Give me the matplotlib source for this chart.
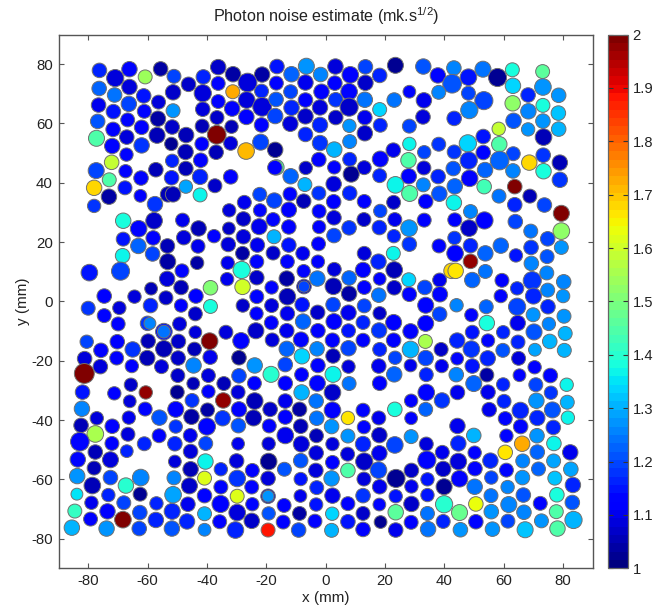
import numpy as np
import matplotlib
matplotlib.use("Agg")
import matplotlib.pyplot as plt

plt.rcParams['font.family'] = ['Liberation Sans', 'DejaVu Sans']
plt.rcParams['axes.unicode_minus'] = False
plt.rcParams['mathtext.fontset'] = 'custom'
plt.rcParams['mathtext.rm'] = 'Liberation Sans'
plt.rcParams['mathtext.default'] = 'regular'

# upper-left detectors: x (mm), y (mm), bubble diameter (mm), photon noise
ul_x = [-76.2,-70.9,-66.1,-60.8,-55.6,-51.1,-46.2,-41.2,-36.2,-31.2,
 -21.4,-26.3,-36.2,-31.3,-16.4,-11.5,-6.5,-1.7,-16.6,-21.6,
 -11.8,-6.8,-1.4,-76.3,-71.1,-66.1,-61.3,-51.4,-41.4,-56.3,
 -51.4,-76.5,-66.3,-71.5,-61.1,-36.2,-41.4,-31.5,-26.6,-21.4,
 -16.7,-11.5,-6.8,-1.9,-76.8,-66.7,-71.6,-62,-56.5,-51.7,
 -36.6,-41.6,-26.7,-17,-21.6,-31.7,-11.9,-6.8,-1.9,-6.8,
 -77.2,-67,-56.8,-47,-36.7,-71.9,-62,-52,-41.7,-32,
 -21.9,-26.8,-1.9,-17,-47.2,-36.9,-67.1,-72.1,-51.7,-42.1,
 -2.3,-77.3,-67.4,-57.2,-47.1,-16.6,-17.1,-6.7,-72.9,-62.2,
 -51.9,-42.3,-32,-11.8,-78,-67.6,-47.1,-37.3,-7,-73,
 -62.4,-53.1,-51.4,-42.3,-22.2,-12,-2.3,-78,-57.5,-27.4,
 -17.3,-7.4,-32.5,-22.1,-12.4,-2.2,-68.2,-57.8,-48.2,-27.7,
 -17.7,-63,-42.8,-32.6,-22.4,-12.4,-2.2,-68.2,-58.1,-47.8,
 -37.6,-27.7,-17.4,-63.1,-53.3,-43,-32.8,-23,-12.4,-2.4,
 -68.4,-58.3,-17.7,-28,-7.7,-53.2,-43.3,-33,-23.2,-12.9,
 -2.6,-79.6,-69.1,-28.3,-48.4,-7.4,-53.4,-33.2,-23.2,-13.1,
 -2.8,-58.8,-48.7,-38.8,-28,-18.2,-7.3,-7.3,-74.6,-64.4,
 -43.7,-53.8]
ul_y = [77.9,75.3,78.3,75.7,78.4,75.9,73.2,75.7,79,76.6,
 76.5,73.8,73.5,70.7,79.2,76.6,79.3,76.5,73.6,70.9,
 70.7,73.8,70.7,71.8,69.6,72.3,69.3,70.5,70.2,67.2,
 64.3,66.2,66.6,64,64.1,67.4,64.8,65,67.9,65.6,
 68.1,65.3,67.9,65.4,60.7,61.2,58,58.7,61.6,58.8,
 62,59.1,62.2,62.5,59.5,58.9,59.9,62.4,59.5,56.3,
 55,55.4,56,56.1,56.2,52.4,52.6,53.1,53.1,53.3,
 53.7,50.7,53.4,51.1,50.4,50.3,49.5,46.9,47.4,47.6,
 47.8,44.1,43.9,44.4,44.8,45.2,45.1,45,41,41.6,
 41.7,42,42,42.2,38.3,38.3,38.7,39,39.4,35.3,
 35.6,36.1,36.1,35.9,36.1,36.2,36.5,32.2,32.8,33.4,
 34,33.8,30.7,30.7,30.9,30.4,27.2,27.2,27.4,27.8,
 27.6,24.5,24.6,24.6,25.2,25.1,25.1,21,21.4,21.5,
 22,21.8,21.8,18.7,18.7,18.6,19.2,19,19,19.4,
 15.4,16,16.3,16.2,16.2,13.4,13,13,13.4,13.4,
 13.4,9.7,10.2,10.6,10.3,10.2,7.6,7.5,8,7.7,
 7.7,4.3,4.7,4.6,4.9,4.7,5,5,1.8,1.6,
 1.8,1.2]
ul_d = [4.9,5.8,5.2,4.7,4.9,4.7,4.9,4.9,5.2,5.2,
 5.2,6.3,4.7,4.7,4.9,5.2,5.4,4.9,4.7,4.7,
 4.7,5.2,5.2,4.9,4.9,5.2,4.9,5.2,5.8,4.7,
 4.7,4.9,5.2,4.9,4.7,4.7,4.9,5.2,5.6,6.3,
 4.9,5.2,4.9,5.2,4.9,4.7,4.9,4.9,5.2,4.9,
 4.7,4.7,5.2,5.2,4.9,4.5,5.2,5.2,5.2,4.9,
 5.4,4.9,5.4,5.2,6.3,5.2,5.2,4.5,4.7,4.7,
 5.4,5.6,5.2,5.2,5.2,4.9,4.5,4.9,4.5,4.9,
 4.9,5.4,4.5,4.9,4.9,5.2,4.9,4.5,4.7,4.9,
 4.9,5.2,4.9,5.2,5.2,4.7,4.5,4.7,4.7,5.2,
 4.3,5.2,5.2,4.7,4.7,4.7,4.7,4.5,5.2,4.7,
 5.2,4.9,4.5,4.5,5.2,4.7,5.2,5.6,4.7,4.9,
 4.7,5.6,5.2,4.3,5.4,4.9,4.5,4.7,4.9,4.9,
 4.5,4.9,4.7,5.2,4.9,4.7,4.9,4.9,4.9,4.7,
 4.9,4.9,4.7,4.7,4.7,5.4,4.5,4.5,4.7,4.7,
 4.5,5.6,6.1,5.8,4.7,4.5,5.2,4.5,4.9,5.2,
 5.2,4.3,4.9,4.9,5.2,4.5,4.9,3.8,4.9,4.5,
 4.9,4.7]
ul_z = [1.17,1.09,1.13,1.54,1.04,1.2,1.07,1.17,1.07,1.04,
 1.04,1.08,1.14,1.73,1.15,1.23,1.27,1.26,1.11,1.16,
 1.2,1.1,1.12,1.22,1.24,1.08,1.15,1.07,1.09,1.08,
 1.27,1.1,1.2,1.15,1.14,1.12,1.09,1.11,1.09,1.09,
 1.21,1.17,1.11,1.08,1.21,1.13,1.11,1.11,1.04,1.07,
 1.07,1.06,1.12,1.2,1.11,1.05,1.09,1.07,1.17,1.17,
 1.44,1.08,1.05,1.06,2.0,1.14,1.18,1.03,1.11,1.08,
 1.19,1.71,1.18,1.03,1.06,1.06,1.13,1.59,1.16,1.11,
 1.12,1.2,1.11,1.05,1.06,1.45,1.11,1.07,1.44,1.14,
 1.15,1.16,1.11,1.23,1.68,1.15,1.29,1.07,1.31,1.04,
 1.11,1.05,1.05,1.36,1.2,1.14,1.18,1.18,1.18,1.1,
 1.2,1.05,1.09,1.14,1.11,1.13,1.39,1.07,1.1,1.07,
 1.14,1.13,1.06,1.07,1.1,1.11,1.11,1.15,1.12,1.09,
 1.12,1.08,1.3,1.23,1.06,1.1,1.08,1.1,1.15,1.11,
 1.37,1.19,1.07,1.04,1.1,1.04,1.04,1.1,1.13,1.13,
 1.12,1.15,1.2,1.39,1.13,1.14,1.09,1.1,1.07,1.04,
 1.24,1.05,1.05,1.5,1.6,1.13,1.05,1.2,1.11,1.09,
 1.12,1.07]

# upper-right detectors
ur_x = [3.3,8.3,13.4,18.2,23.5,32.9,37.8,43.2,42.6,48.1,
 53,57.9,62.9,73.1,3.1,13.4,7.9,3.4,13.2,7.9,
 18.2,23.1,28.2,33.1,38.1,48.1,63.1,73.2,68.2,78.5,
 53.3,48.4,63,73.2,68.3,78.4,3.4,13.2,32.8,43.3,
 63.3,73.2,8,18.4,28.2,58.3,68.2,78.5,13.2,2.9,
 8.1,73.4,53.1,28.2,38.1,47.9,58.5,22.8,33.2,43.3,
 53.1,63.2,73.3,18.4,27.9,8.1,48.2,58.6,68.6,78.9,
 2.9,13,8.6,33.1,43,53.7,73.4,63.1,18.2,28,
 37.9,48.5,78.9,2.7,23.5,32.9,43.5,63.7,53.4,8.1,
 28.3,38.3,58.4,68.8,2.7,13,22.9,33.7,43.2,63.7,
 73.7,18.4,48.8,79.4,2.8,12.9,23.3,33.2,43.5,53.5,
 63.9,7.9,18.1,28.1,48.3,69.1,79.4,2.8,23,43.4,
 74.8,28.2,38.2,48.8,59,69.2,79.4,13,22.8,43.6,
 53.8,64.1,74.6,48.8,17.8,69.3,2.9,12.6,23.1,42.4,
 43.8,53.8,74.5,18.2,7.9,2.6,28,38.4,49.4,59.4,
 69.6,80.2,13,23.1,33.4,64.5,74.8,7.9,17.9,28.2,
 38.5,59,70,80]
ur_y = [79.2,76.4,79.1,76.2,79.6,79.2,76.2,78.7,73.4,75.6,
 78.3,75.5,78.1,77.5,73.6,73.7,70.7,68,68,65.5,
 64.7,67.9,70.7,67.8,70.5,70.2,72.7,72.3,69.6,69.5,
 67.7,64.5,66.8,66.1,64.1,63.5,62,62,62.2,61.7,
 60.9,60.8,59.2,59.4,59.1,58.2,58,58.1,56.7,51.2,
 53.9,55.4,55.6,53.1,53,53.3,53,51,50.3,50.4,
 50.2,49.8,49.3,48,47.6,47.9,47.5,47.5,46.8,46.8,
 45.2,45.1,42.9,45,44.8,44.3,43.9,44,42.4,42.2,
 42.1,41.5,41,39.6,39.3,39.3,38.8,38.7,38.7,36.5,
 36.4,36.3,35.5,35.5,33.6,33.7,33.4,33.7,33.3,32.6,
 32.5,30.5,30.3,29.7,28.2,27.6,27.6,27.4,27.5,27.3,
 26.9,24.8,24.9,24.7,24.7,23.7,23.7,22.2,22,21.4,
 21.1,19.3,18.7,18.8,18.8,18.2,18.2,16.2,16.2,16.2,
 16.2,15.5,15.1,13.5,13.4,12.8,10.8,10.6,10.6,10.3,
 10.3,10.1,9.6,7.6,7.9,5.1,7.3,7.2,7.2,7.1,
 7,6.6,4.7,4.6,4.7,4.4,3.8,2.6,2.1,2.4,
 2.4,1.8,1.8,1.8]
ur_d = [5.2,5.6,4.9,4.9,5.4,5.2,5.2,4.9,6.3,5.6,
 5.4,6.1,4.7,4.7,4.9,5.2,5.6,4.9,5.2,6.1,
 4.7,4.9,4.3,5.2,4.7,4.7,5.2,5.6,4.9,4.9,
 6.1,5.8,5.2,4.7,5.2,4.9,4.9,4.9,4.9,4.9,
 5.2,4.9,4.5,4.7,4.7,4.5,4.5,4.9,5.2,5.2,
 4.7,5.6,4.9,4.5,4.7,5.8,5.2,4.9,4.5,4.7,
 4.9,4.7,4.9,5.4,5.2,4.7,5.8,6.3,5.2,5.2,
 4.5,4.7,5.4,4.7,4.9,5.2,5.2,4.9,4.7,5.2,
 4.9,5.6,5.2,5.2,5.6,4.7,5.2,4.9,4.9,4.9,
 5.4,5.2,4.7,4.7,4.9,4.7,4.7,4.9,5.2,4.9,
 4.9,4.5,4.7,5.4,4.9,4.7,4.7,4.7,4.7,5.8,
 4.9,4.9,4.9,5.6,5.6,4.7,5.6,4.9,4.5,4.5,
 4.9,4.9,4.7,4.9,5.2,4.9,4.7,4.7,4.7,5.6,
 5.2,4.5,4.7,4.9,5.2,4.9,4.7,5.2,5.6,5.2,
 5.2,4.7,4.7,4.3,4.9,5.6,4.7,4.7,5.2,4.7,
 6.1,4.9,4.7,4.9,4.9,4.5,4.7,5.2,4.9,4.9,
 5.2,4.5,5.4,4.5]
ur_z = [1.09,1.11,1.2,1.16,1.03,1.21,1.13,1.26,1.21,1.15,
 1.24,1.03,1.39,1.46,1.12,1.07,1.14,1.18,1.24,1.07,
 1.33,1.24,1.14,1.1,1.25,1.2,1.33,1.28,1.16,1.27,
 1.19,1.25,1.53,1.38,1.26,1.32,1.07,1.1,1.08,1.17,
 1.21,1.27,1.27,1.17,1.2,1.59,1.27,1.3,1.07,1.3,
 1.26,1.05,1.15,1.36,1.18,1.34,1.44,1.1,1.2,1.18,
 1.14,1.2,1.18,1.11,1.44,1.17,1.16,1.23,1.68,1.05,
 1.11,1.09,1.03,1.08,1.21,1.23,1.38,1.25,1.17,1.11,
 1.17,1.11,1.18,1.08,1.36,1.25,1.22,1.99,1.43,1.16,
 1.45,1.21,1.24,1.05,1.11,1.11,1.07,1.11,1.36,1.17,
 1.2,1.2,1.26,2.0,1.08,1.07,1.1,1.11,1.11,1.12,
 1.2,1.18,1.17,1.27,1.07,1.24,1.53,1.2,1.17,1.18,
 1.19,1.18,1.14,1.16,1.23,1.18,1.27,1.09,1.37,1.11,
 1.23,1.15,1.21,1.97,1.17,1.25,1.08,1.11,1.05,1.68,
 1.67,1.24,1.25,1.11,1.23,1.06,1.33,1.1,1.22,1.12,
 1.18,1.26,1.11,1.07,1.19,1.16,1.25,1.04,1.24,1.12,
 1.14,1.14,1.16,1.27]

# lower-left detectors
ll_x = [-23.2,-12.9,-59,-80,-69.5,-74.6,-48.7,-38.8,-43.9,-27.9,
 -18.2,-7.9,-23.3,-12.9,-2.7,-69.9,-60,-59.2,-49.2,-18.3,
 -7.6,-54.5,-54.5,-43.9,-33.6,-23.5,-13.1,-2.6,-80.5,-70.2,
 -59.8,-49.6,-39.1,-28.5,-18,-8.3,-75.7,-65,-54.5,-44.2,
 -13.1,-2.9,-81.2,-70.4,-60.1,-49.7,-38.9,-29.2,-8,-75.9,
 -65.3,-55.3,-44.5,-23.9,-13.6,-2.6,-81.3,-49.8,-39.5,-29.2,
 -18.4,-8.1,-65.6,-44.6,-34.3,-24,-13.6,-2.8,-81.9,-71.2,
 -60.6,-50,-39.5,-29.5,-8.1,-66,-45,-34.5,-23.9,-13.6,
 -3.2,-82.1,-60.8,-50.5,-39.8,-29.2,-18.7,-8.8,-77.1,-66.3,
 -56,-45.2,-34.7,-24.3,-13.6,-3,-82.4,-71.9,-50.5,-40,
 -29.4,-19,-8.4,-77.6,-66.6,-56.1,-45.6,-13.6,-3.1,-82.8,
 -72,-61.1,-50.8,-40.4,-29.5,-19.2,-8.2,-77.6,-67,-45.5,
 -3.2,-83.5,-72.5,-50.8,-40.5,-30,-19.2,-8.4,-78,-45.5,
 -35.3,-24.7,-13.9,-3.3,-83.7,-72.5,-62.3,-51.1,-40.8,-29.8,
 -19.4,-8.4,-78.6,-67.3,-45.9,-35.3,-24.9,-3,-83.8,-73.2,
 -62.5,-51.4,-40.8,-29.8,-19.4,-19.4,-8.5,-78.9,-68,-57,
 -46.4,-35.4,-24.7,-14,-3.2,-84.5,-73.5,-62.6,-51.7,-40.8,
 -29.8,-19.2,-8.8,-79.2,-68.3,-57.2,-46.7,-35.7,-24.9,-14.3,
 -3.6,-85.5,-73.8,-62.8,-51.8,-40.8,-30.4,-19.4,-9.1]
ll_y = [1.6,1.6,-1.4,-2.3,-2.2,-4.8,-1.4,-1.7,-4.2,-1.4,
 -1.4,-1.1,-4.1,-4.1,-3.7,-7.6,-7.4,-7.4,-7.6,-7.2,
 -6.8,-10.2,-10.2,-10.4,-10.4,-9.9,-9.9,-9.9,-13.6,-13.6,
 -13.4,-13.5,-13.4,-13.3,-13,-12.9,-16.5,-16.2,-16,-16.1,
 -16,-16,-19.3,-19.1,-19.1,-19.1,-18.8,-19,-18.5,-22,
 -21.8,-22,-21.6,-21.6,-21.3,-21.6,-24.3,-25,-25,-25.1,
 -24.6,-24.7,-28.1,-27.7,-27.7,-27.6,-27.6,-27.6,-30.6,-31,
 -30.7,-30.6,-30.4,-30.6,-30.7,-33.7,-33.4,-33.4,-33.6,-33.6,
 -33.6,-36.2,-36.3,-36.4,-36.6,-36.4,-36.4,-36.4,-39.4,-39.2,
 -39.2,-38.9,-39.4,-39.3,-39,-39.4,-41.8,-42.1,-42.2,-42.2,
 -41.9,-42,-42.1,-44.7,-44.8,-45.3,-45.2,-45.2,-45.3,-47.3,
 -47.9,-48,-48,-47.9,-48,-48,-48.1,-50.8,-50.5,-50.6,
 -51.1,-53.3,-53.4,-54,-54,-53.8,-54,-53.7,-56.2,-56.6,
 -56.6,-57,-56.6,-57,-58.9,-59.4,-59.4,-59.5,-59.6,-59.7,
 -59.7,-59.9,-62.1,-62.1,-62.2,-62.6,-62.6,-62.8,-65,-65.3,
 -65,-65.2,-65.5,-65.7,-65.7,-65.7,-65.6,-67.9,-67.9,-68.1,
 -68.4,-68.3,-68.4,-68.8,-68.5,-70.7,-70.8,-71.2,-70.8,-71.6,
 -71.2,-71.5,-71.5,-73.4,-73.6,-73.7,-74.2,-74.3,-74,-74.4,
 -74.1,-76.3,-76.6,-76.6,-76.6,-77,-77.1,-77.1,-77.1]
ll_d = [4.7,5.6,4.9,4.7,4.5,4.7,4.5,4.7,4.7,4.5,
 4.7,4.9,4.5,4.9,4.9,4.7,4.9,4.0,4.7,4.7,
 5.2,5.6,4.3,4.3,4.7,5.4,4.9,4.9,4.5,4.9,
 4.9,4.9,5.6,5.6,4.7,5.2,4.9,5.2,5.6,4.7,
 5.2,4.9,4.9,4.7,5.2,4.9,4.9,4.9,5.2,4.9,
 4.5,4.7,5.2,5.2,4.9,4.9,6.7,4.7,4.7,4.9,
 5.4,4.7,4.5,4.3,4.7,4.7,4.9,5.4,4.9,4.5,
 4.5,4.7,4.5,4.7,5.2,4.3,4.7,5.2,5.6,4.9,
 4.9,5.2,4.7,5.4,4.7,5.2,4.9,4.9,4.5,4.5,
 5.2,5.2,5.2,5.4,4.9,4.9,4.9,4.9,4.5,5.8,
 4.9,4.7,4.9,5.6,4.7,4.7,4.7,5.6,4.7,6.3,
 4.7,4.7,4.9,4.7,4.3,4.5,5.4,4.9,4.3,4.9,
 4.9,5.2,5.4,4.3,5.2,4.9,5.6,4.9,4.7,5.2,
 4.5,4.7,4.7,4.9,5.2,4.9,5.6,4.7,4.7,5.6,
 4.9,4.5,5.6,5.2,5.4,4.7,4.7,4.7,4.0,4.5,
 4.7,5.6,4.9,4.7,4.9,4.0,4.3,4.5,4.7,4.5,
 4.9,5.8,4.5,4.7,4.5,4.7,5.2,4.9,5.4,4.7,
 5.6,4.5,4.7,4.7,5.6,5.2,5.2,4.7,5.2,4.7,
 4.7,5.2,5.2,4.9,5.2,4.3,5.6,4.7,4.9]
ll_z = [1.13,1.05,1.17,1.18,1.09,1.14,1.12,1.38,1.07,1.07,
 1.08,1.15,1.12,1.1,1.07,1.12,1.18,1.26,1.08,1.11,
 1.22,1.15,1.24,1.09,1.08,1.07,1.1,1.11,1.2,1.11,
 1.05,1.07,2.0,1.11,1.08,1.14,1.11,1.18,1.06,1.06,
 1.23,1.25,1.08,1.11,1.05,1.07,1.1,1.03,1.34,1.09,
 1.11,1.08,1.25,1.27,1.2,1.11,2.0,1.07,1.08,1.19,
 1.4,1.11,1.07,1.05,1.06,1.11,1.12,1.14,1.15,1.11,
 1.98,1.03,1.11,1.09,1.3,1.09,1.18,1.97,1.06,1.1,
 1.24,1.26,1.13,1.11,1.04,1.11,1.07,1.04,1.09,1.1,
 1.21,1.04,1.18,1.05,1.11,1.24,1.05,1.11,1.18,1.13,
 1.21,1.11,1.06,1.56,1.09,1.11,1.1,1.1,1.05,1.14,
 1.11,1.16,1.17,1.19,1.1,1.09,1.09,1.06,1.17,1.08,
 1.09,1.14,1.09,1.09,1.36,1.09,1.03,1.21,1.05,1.06,
 1.16,1.11,1.21,1.08,1.27,1.19,1.26,1.25,1.62,1.18,
 1.08,1.15,1.06,1.4,1.07,1.13,1.13,1.17,1.35,1.17,
 1.03,1.29,1.13,1.61,1.07,1.27,1.1,1.1,1.19,1.17,
 1.1,1.11,1.13,1.11,1.15,1.41,1.11,1.19,1.17,1.31,
 1.08,1.21,1.04,1.11,1.99,1.17,1.17,1.11,1.07,1.11,
 1.11,1.3,1.28,1.19,1.21,1.25,1.17,1.89,1.19]

# lower-right detectors
lr_x = [44.1,54.1,64.5,74.9,2.5,13,33.7,38.4,49.1,69.9,
 80.3,7.7,18.2,2.8,12.6,22.9,33.7,54.3,64.7,75.2,
 7.7,18,28.6,49.4,59.8,70.2,80.7,2.3,12.6,22.9,
 44.3,54.7,64.8,75.5,33.6,28.6,7.7,18.2,38.9,49.1,
 59.7,70.5,80.4,2.5,33.7,23.4,44.3,54.6,65,7.7,
 17.9,28.6,39.1,49.4,70.4,2.5,23.1,33.9,44,54.3,
 65.3,75.7,7.9,18.2,49.9,59.8,70.8,81.2,2.3,33.9,
 44.4,54.7,75.9,39.2,28.8,60.1,71,81.4,2.3,12.6,
 23.3,33.7,55.1,65.6,76.4,7.5,17.9,28.8,60.5,71.3,
 81.6,2,12.9,44.4,65.7,76.7,7.5,18.1,28.8,49.9,
 60.9,71.2,2.3,12.6,23.3,33.9,44.7,66.2,76.9,7.4,
 18.1,39.3,50.2,60.5,71.3,82.4,2.3,13,34.1,44.7,
 55.5,66.4,76.8,7.5,17.8,28.9,39.6,50.3,60.9,71.7,
 82.6,2,12.9,23.7,34.3,45.1,55.8,66.3,77.2,18.2,
 28.9,39.9,50.2,61.3,83.3,2.3,12.6,23.6,34.3,55.7,
 66.6,77.9,7.5,18.1,28.9,39.9,50.6,61.7,72.3,83.1,
 12.6,23.6,34.3,45.1,55.8,66.8,77.7,2.2,7.5,18.5,
 28.8,39.6,50.6,61.4,72.7,83.5,2,12.6,23.6,34.5,
 45.4,56.2,67.2,78.1]
lr_y = [-1.3,-1.8,-1.8,-1.8,-1.1,-1.5,-1.3,-4.3,-4.6,-4.5,
 -5,-3.8,-4,-6.8,-7.1,-7.1,-7.4,-7.3,-7.3,-7.6,
 -9.9,-9.8,-10.1,-10.4,-10.4,-10.3,-10.8,-13.1,-13.1,-13.1,
 -13.2,-13.2,-13.7,-13.5,-13.5,-16.2,-15.8,-16.2,-16.2,-16.1,
 -16.5,-16.3,-16.5,-18.4,-19.1,-19,-19.3,-19.2,-19.2,-22,
 -21.8,-21.6,-21.8,-21.8,-22.2,-24.6,-24.6,-24.7,-24.7,-24.8,
 -24.9,-25,-27.7,-27.6,-27.7,-28,-28.1,-28.1,-30.7,-30.7,
 -30.7,-30.6,-30.8,-33.4,-33.5,-33.7,-33.5,-34,-36.7,-36.7,
 -36.4,-36.4,-36.5,-36.8,-36.6,-39.3,-39.3,-39.4,-39.5,-39.3,
 -39.2,-42.2,-42.4,-42,-42.2,-42.5,-45.4,-45.1,-45.6,-45.2,
 -45.3,-45.3,-48.1,-48.1,-48.4,-48.1,-47.9,-48,-47.9,-51.5,
 -51.2,-50.9,-51,-50.9,-50.8,-50.9,-54.3,-54,-53.5,-54,
 -53.7,-53.8,-53.8,-57,-56.9,-57,-56.5,-56.4,-56.9,-56.5,
 -56.6,-59.7,-59.9,-59.7,-60,-59.8,-59.4,-59.4,-59.6,-62.5,
 -62.4,-62.5,-62.5,-62.6,-61.9,-65.5,-65.5,-65.7,-65.3,-65.5,
 -65.3,-65.2,-68.2,-68.5,-68.3,-68.4,-68.3,-68.5,-68.1,-67.8,
 -71.5,-71.1,-71.5,-71.2,-70.9,-71.1,-70.9,-71.6,-74.3,-74.4,
 -74.5,-74.2,-74.3,-74.1,-74,-73.7,-77.2,-76.9,-77.1,-76.8,
 -77,-76.8,-77,-76.6]
lr_d = [4.5,4.7,5.8,4.9,4.9,4.7,5.4,4.9,4.5,4.7,
 4.7,5.2,4.5,5.4,4.7,5.4,5.4,5.2,5.2,4.5,
 4.7,5.2,5.2,4.7,4.5,5.4,4.7,4.9,4.7,4.9,
 5.2,4.5,4.7,4.9,4.7,5.6,5.2,4.7,4.7,5.6,
 4.7,4.3,4.7,4.9,5.2,4.5,4.3,5.2,4.7,4.5,
 4.9,4.3,4.5,4.9,4.5,5.4,5.2,4.7,4.9,4.7,
 4.3,4.9,4.7,4.9,5.4,4.5,4.7,4.5,5.6,5.6,
 4.9,4.9,4.5,5.2,4.5,4.7,5.2,4.7,5.6,4.7,
 4.9,4.7,4.9,5.6,5.4,4.5,4.7,4.3,4.7,5.2,
 4.5,4.9,4.5,5.2,4.9,4.9,4.7,5.2,4.7,4.9,
 4.5,4.9,4.5,5.2,5.6,4.7,5.2,5.2,4.9,4.7,
 5.2,4.7,4.5,4.9,4.9,5.2,4.7,5.8,6.1,5.6,
 5.2,4.7,4.7,4.9,5.6,4.9,5.2,4.9,4.7,4.7,
 4.9,5.2,4.7,6.1,4.5,5.6,4.5,4.9,4.7,4.9,
 4.5,5.4,5.2,4.5,5.2,5.2,4.9,4.5,4.5,4.7,
 4.9,4.9,4.7,4.3,5.2,5.8,4.9,5.4,4.7,4.9,
 4.7,5.2,4.7,5.4,4.9,4.9,4.7,4.5,4.9,4.3,
 4.7,4.7,4.9,4.7,4.7,5.8,4.7,4.9,4.9,5.2,
 4.9,4.9,5.4,5.2]
lr_z = [1.25,1.23,1.2,1.16,1.19,1.19,1.13,1.19,1.12,1.27,
 1.27,1.1,1.07,1.11,1.16,1.11,1.12,1.38,1.1,1.26,
 1.15,1.18,1.11,1.15,1.17,1.21,1.31,1.11,1.11,1.11,
 1.16,1.14,1.16,1.3,1.55,1.31,1.2,1.16,1.07,1.18,
 1.21,1.29,1.3,1.06,1.19,1.2,1.14,1.17,1.09,1.09,
 1.1,1.1,1.1,1.15,1.11,1.36,1.23,1.17,1.26,1.04,
 1.12,1.13,1.24,1.11,1.23,1.17,1.19,1.36,1.07,1.14,
 1.1,1.1,1.18,1.18,1.12,1.16,1.27,1.31,1.11,1.13,
 1.39,1.22,1.1,1.16,1.21,1.67,1.1,1.11,1.13,1.16,
 1.36,1.27,1.13,1.1,1.14,1.16,1.27,1.07,1.27,1.31,
 1.13,1.28,1.09,1.17,1.19,1.09,1.17,1.73,1.37,1.08,
 1.1,1.1,1.12,1.66,1.23,1.1,1.11,1.07,1.13,1.08,
 1.17,1.25,1.29,1.44,1.2,1.07,1.07,1.12,1.14,1.22,
 1.29,1.28,1.09,1.03,1.15,1.11,1.19,1.27,1.32,1.1,
 1.1,1.03,1.24,1.25,1.17,1.1,1.18,1.15,1.15,1.24,
 1.21,1.38,1.11,1.13,1.07,1.4,1.63,1.25,1.13,1.21,
 1.07,1.46,1.24,1.47,1.27,1.25,1.45,1.33,1.15,1.03,
 1.11,1.17,1.13,1.2,1.27,1.3,1.31,1.11,1.1,1.24,
 1.28,1.28,1.32,1.44]

cbar_ticks = [1, 1.1, 1.2, 1.3, 1.4, 1.5, 1.6, 1.7, 1.8, 1.9, 2]
axis_ticks = [-80, -60, -40, -20, 0, 20, 40, 60, 80]

x = np.array(ul_x + ur_x + ll_x + lr_x)
y = np.array(ul_y + ur_y + ll_y + lr_y)
d = np.array(ul_d + ur_d + ll_d + lr_d)
z = np.array(ul_z + ur_z + ll_z + lr_z)
assert len(x) == len(y) == len(d) == len(z)

W, H = 666, 608
fig = plt.figure(figsize=(W / 100, H / 100), dpi=100)
ax = fig.add_axes([58.5 / W, 1 - 568.3 / H, 534.3 / W, 533.8 / H])
cmap = plt.get_cmap('jet', 64)
sizes = (d * (534.3 / 180) * 0.72) ** 2
sc = ax.scatter(x, y, s=sizes, c=z, cmap=cmap, vmin=1, vmax=2,
                edgecolors='#707070', linewidths=0.7, zorder=3)
ax.set_xlim(-90, 90)
ax.set_ylim(-90, 90)
ax.set_xticks(axis_ticks)
ax.set_yticks(axis_ticks)
ax.tick_params(direction='in', top=True, right=True, length=3.6, width=0.8,
               color='#555555', labelsize=10.8, pad=4, labelcolor='#222222')
for s in ax.spines.values():
    s.set_color('#555555')
    s.set_linewidth(1.0)
ax.set_xlabel('x (mm)', fontsize=11, labelpad=2, color='#222222')
ax.set_ylabel('y (mm)', fontsize=11, labelpad=1, color='#222222')
ax.set_title('Photon noise estimate (mk.s$^{1/2}$)', fontsize=11.6, pad=9, color='#222222')

cax = fig.add_axes([608.3 / W, 1 - 568.3 / H, 20 / W, 533.8 / H])
cb = fig.colorbar(sc, cax=cax, ticks=cbar_ticks)
cb.ax.set_yticklabels(['%g' % t for t in cbar_ticks])
cb.ax.tick_params(direction='in', left=True, right=True, length=3.6, width=0.8,
                  color='#333333', labelsize=10.6, pad=3, labelcolor='#222222')
cb.outline.set_edgecolor('#666666')
cb.outline.set_linewidth(0.9)

fig.savefig('out.png', dpi=100, facecolor='white')
